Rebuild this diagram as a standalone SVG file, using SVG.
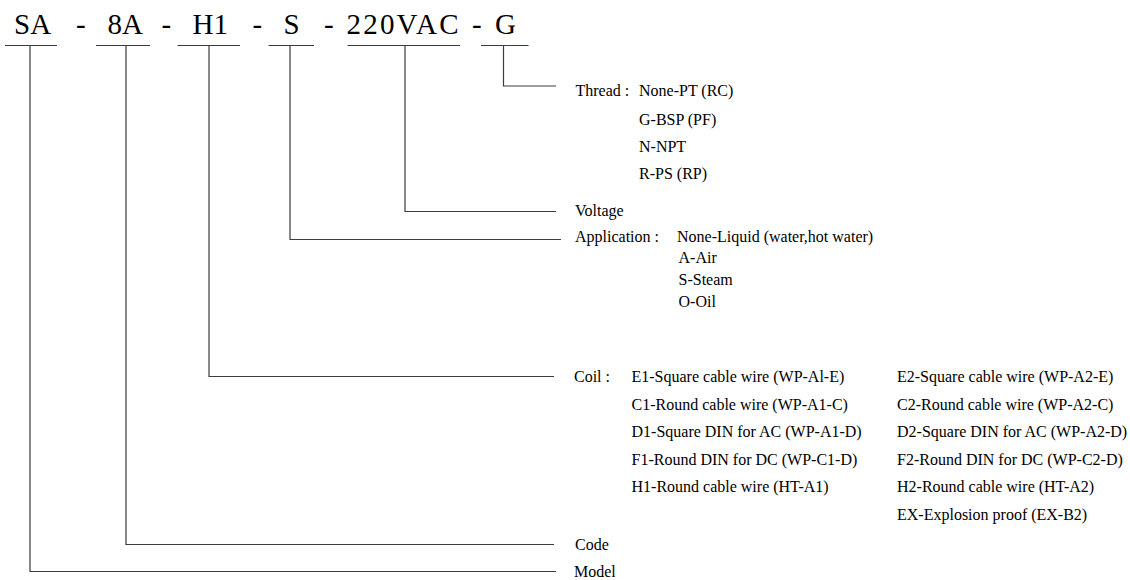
<svg xmlns="http://www.w3.org/2000/svg" width="1130" height="580" viewBox="0 0 1130 580">
<style>
  .code { font-size: 29px; fill: #000; }
  .lbl { font-size: 16px; fill: #000; }
  .ln { stroke: #3c3c3c; stroke-width: 1.2; fill: none; }
</style>
<rect width="1130" height="580" fill="#fff"/>

<g font-family="Liberation Serif, Times New Roman, DejaVu Serif, serif">
<g id="code-text">
  <text class="code" x="14" y="34">SA</text>
  <text class="code" x="76" y="34">-</text>
  <text class="code" x="107.5" y="34">8A</text>
  <text class="code" x="161.5" y="34">-</text>
  <text class="code" x="192.5" y="34">H1</text>
  <text class="code" x="252.5" y="34">-</text>
  <text class="code" x="283.5" y="34">S</text>
  <text class="code" x="324" y="34">-</text>
  <text class="code" x="346.5" y="34" textLength="112" lengthAdjust="spacing">220VAC</text>
  <text class="code" x="472" y="34">-</text>
  <text class="code" x="495" y="34">G</text>
</g>

<g id="thread">
  <text class="lbl" x="575.5" y="96">Thread :</text>
  <text class="lbl" x="639" y="96">None-PT (RC)</text>
  <text class="lbl" x="639" y="124.5">G-BSP (PF)</text>
  <text class="lbl" x="639" y="151.5">N-NPT</text>
  <text class="lbl" x="639" y="178.5">R-PS (RP)</text>
</g>

<g id="voltage">
  <text class="lbl" x="575" y="215.5">Voltage</text>
</g>

<g id="application">
  <text class="lbl" x="575" y="242">Application :</text>
  <text class="lbl" x="677" y="242">None-Liquid (water,hot water)</text>
  <text class="lbl" x="678.5" y="263">A-Air</text>
  <text class="lbl" x="678.5" y="285">S-Steam</text>
  <text class="lbl" x="678.5" y="307">O-Oil</text>
</g>

<g id="coil">
  <text class="lbl" x="574" y="382">Coil :</text>
  <text class="lbl" x="631.5" y="382">E1-Square cable wire (WP-Al-E)</text>
  <text class="lbl" x="631.5" y="409.5">C1-Round cable wire (WP-A1-C)</text>
  <text class="lbl" x="631.5" y="437">D1-Square DIN for AC (WP-A1-D)</text>
  <text class="lbl" x="631.5" y="464.5">F1-Round DIN for DC (WP-C1-D)</text>
  <text class="lbl" x="631.5" y="492">H1-Round cable wire (HT-A1)</text>
  <text class="lbl" x="897" y="382">E2-Square cable wire (WP-A2-E)</text>
  <text class="lbl" x="897" y="409.5">C2-Round cable wire (WP-A2-C)</text>
  <text class="lbl" x="897" y="437">D2-Square DIN for AC (WP-A2-D)</text>
  <text class="lbl" x="897" y="464.5">F2-Round DIN for DC (WP-C2-D)</text>
  <text class="lbl" x="897" y="492">H2-Round cable wire (HT-A2)</text>
  <text class="lbl" x="897" y="519.5">EX-Explosion proof (EX-B2)</text>
</g>

<g id="code">
  <text class="lbl" x="575" y="549.5">Code</text>
</g>

<g id="model">
  <text class="lbl" x="574" y="576.5">Model</text>
</g>
</g>

<g id="connectors">
  <line class="ln" x1="5" y1="45.5" x2="57" y2="45.5"/>
  <line class="ln" x1="96" y1="45.5" x2="150" y2="45.5"/>
  <line class="ln" x1="177.5" y1="45.5" x2="240" y2="45.5"/>
  <line class="ln" x1="268.5" y1="45.5" x2="314" y2="45.5"/>
  <line class="ln" x1="347.5" y1="45.5" x2="460" y2="45.5"/>
  <line class="ln" x1="481" y1="45.5" x2="528.5" y2="45.5"/>

  <polyline class="ln" points="503.5,45.5 503.5,86 556,86"/>
  <polyline class="ln" points="405,45.5 405,211.5 556,211.5"/>
  <polyline class="ln" points="290,45.5 290,239.5 561,239.5"/>
  <polyline class="ln" points="209,45.5 209,376.5 554,376.5"/>
  <polyline class="ln" points="126,45.5 126,544.5 554,544.5"/>
  <polyline class="ln" points="30,45.5 30,571.5 556,571.5"/>
</g>
</svg>
